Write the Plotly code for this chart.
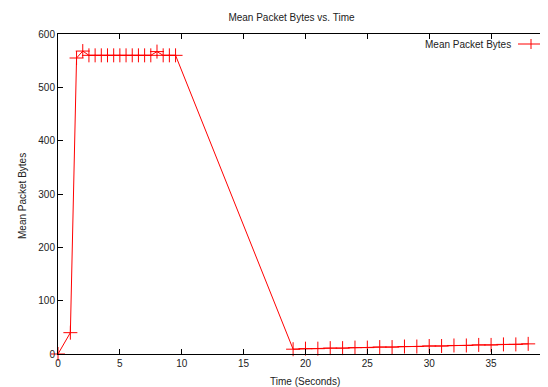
import plotly.graph_objects as go

time_s = [0, 1, 1.5, 2, 2.5, 3, 3.5, 4, 4.5, 5, 5.5, 6, 6.5, 7, 7.5, 8, 8.5, 9, 9.5,
          19, 20, 21, 22, 23, 24, 25, 26, 27, 28, 29, 30, 31, 32, 33, 34, 35, 36, 37, 38]
mean_bytes = [0, 40, 555, 568, 560, 560, 560, 560, 560, 560, 560, 560, 560, 560, 560, 567, 560, 560, 560,
              9, 10, 10, 11, 11, 12, 12, 13, 13, 14, 14, 15, 15, 16, 16, 17, 17, 18, 18, 19]
series_name = "Mean Packet Bytes"
chart_title = "Mean Packet Bytes vs. Time"
x_title = "Time (Seconds)"
y_title = "Mean Packet Bytes"

# page body has an 8px margin; work in page pixels and subtract it
OFF = 8
W, H = 548 - OFF, 387 - OFF
L, R, T, B = 58 - OFF, 0, 34 - OFF, 33
PW, PH = W - L - R, H - T - B


def px(xpage):
    return (xpage - OFF - L) / PW


def py(ypage):
    return 1 - (ypage - OFF - T) / PH


fig = go.Figure()
fig.add_trace(go.Scatter(
    x=time_s, y=mean_bytes, mode="lines+markers", name=series_name,
    line=dict(color="#ff0000", width=1),
    marker=dict(symbol="cross-thin-open", size=10, color="#ff0000",
                line=dict(color="#ff0000", width=1)),
    showlegend=False, cliponaxis=False,
))

font = dict(family="Liberation Sans, Arial, sans-serif", size=10, color="#222")

axis_common = dict(
    showgrid=False, zeroline=False, showline=True, linecolor="#000", linewidth=1,
    ticks="inside", ticklen=5, tickcolor="#000", mirror="ticks",
    tickfont=font, automargin=False,
)

fig.update_layout(
    width=W, height=H,
    margin=dict(l=L, r=R, t=T, b=B, autoexpand=False),
    paper_bgcolor="white", plot_bgcolor="white",
    font=font,
    title=dict(text=chart_title, x=(291.5 - OFF) / W, xref="container", xanchor="center",
               y=1 - (17 - OFF) / H, yref="container", yanchor="middle", font=font),
    xaxis=dict(range=[0, 39.6], dtick=5, tick0=0, **axis_common),
    yaxis=dict(range=[0, 600], dtick=100, tick0=0, **axis_common),
)

# axis titles
fig.add_annotation(text=x_title, xref="paper", yref="paper", x=px(305), y=py(381),
                   xanchor="center", yanchor="middle", showarrow=False, font=font)
fig.add_annotation(text=y_title, xref="paper", yref="paper", textangle=-90,
                   x=px(22), y=py(196),
                   xanchor="center", yanchor="middle", showarrow=False, font=font)

# gnuplot-style key: text then sample on the right
ky = py(44)
fig.add_annotation(text=series_name, xref="paper", yref="paper", x=px(513), y=ky,
                   xanchor="right", yanchor="middle", showarrow=False, font=font)
dy = 5 / PH
fig.add_shape(type="line", xref="paper", yref="paper", x0=px(518), x1=px(544), y0=ky, y1=ky,
              line=dict(color="#ff0000", width=1))
fig.add_shape(type="line", xref="paper", yref="paper", x0=px(531), x1=px(531),
              y0=ky - dy, y1=ky + dy, line=dict(color="#ff0000", width=1))

fig.write_html("out.html")
